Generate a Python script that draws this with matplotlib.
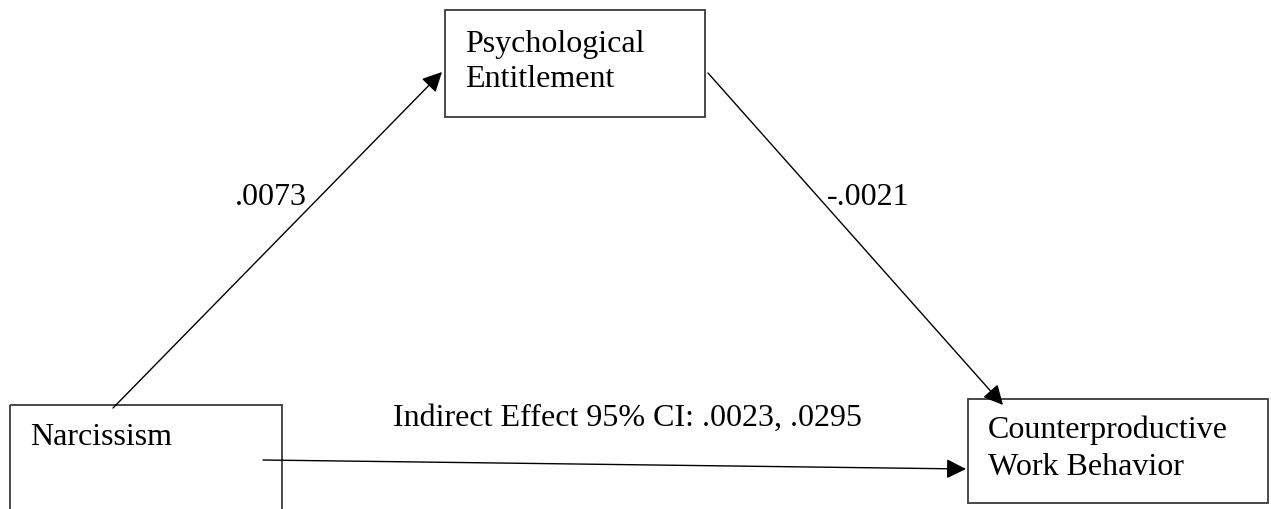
import matplotlib.pyplot as plt
from matplotlib.patches import Rectangle

# node labels and path coefficients
nodes = [['Narcissism'], ['Psychological', 'Entitlement'], ['Counterproductive', 'Work Behavior']]
path_a = '.0073'
path_b = '-.0021'
indirect_label = 'Indirect Effect 95% CI: .0023, .0295'

# layout (pixel coords, y down)
W, H = 1271, 509
boxes = [(10, 405, 272, 120), (445, 10, 260, 107), (968, 399, 300, 104)]
text_x = [30, 465, 988]
text_base = [[445], [52, 87], [438, 475]]
arrows = [((113, 408), (442, 72)), ((708, 73), (1003, 405)), ((263, 460), (966, 469))]

plt.rcParams['font.family'] = ['Liberation Serif', 'DejaVu Serif']
fs = 23

fig = plt.figure(figsize=(W / 100, H / 100), dpi=100)
ax = fig.add_axes([0, 0, 1, 1])
ax.set_xlim(0, W)
ax.set_ylim(H, 0)
ax.axis('off')

for (x, y, w, h), lines, tx, bases in zip(boxes, nodes, text_x, text_base):
    ax.add_patch(Rectangle((x, y), w, h, fill=False, edgecolor='#3a3a3a', linewidth=1.3))
    for line, ty in zip(lines, bases):
        ax.text(tx, ty, line, fontsize=fs, va='baseline', ha='left')

for start, end in arrows:
    ax.annotate('', xy=end, xytext=start,
                arrowprops=dict(arrowstyle='-|>', color='black', lw=1.0,
                                mutation_scale=30, shrinkA=0, shrinkB=0))

ax.text(235, 205, path_a, fontsize=fs, ha='left', va='baseline')
ax.text(827, 205, path_b, fontsize=fs, ha='left', va='baseline')
ax.text(393, 426, indirect_label, fontsize=fs, ha='left', va='baseline')

fig.savefig('out.png', dpi=100)
